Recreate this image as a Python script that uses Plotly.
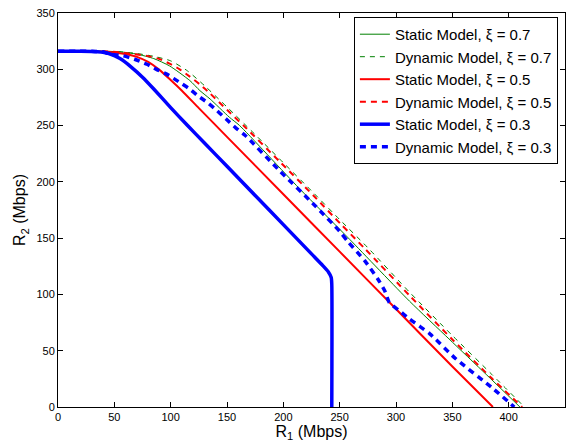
import plotly.graph_objects as go

# Static Model, xi = 0.7
s07_r1 = [0, 40, 55, 70, 85, 99, 117, 126, 135, 152, 161, 214, 259, 312, 347, 380, 410]
s07_r2 = [316, 316, 315.5, 313.5, 309.5, 303, 290, 281, 273.6, 257.5, 250.2, 194.3, 148.8, 94, 60.5, 29, 0]

# Dynamic Model, xi = 0.7
d07_r1 = [0, 40, 55, 70, 85, 100, 115, 130, 150, 175, 200, 225, 250, 275, 312, 350, 385, 414]
d07_r2 = [316, 316, 315.5, 314, 311.5, 307.5, 298.5, 285.5, 266.5, 242, 217, 192, 166.5, 141.5, 102, 63.5, 29, 0]

# Static Model, xi = 0.5
s05_r1 = [0, 30, 50, 60, 70, 80, 90, 100, 110, 125, 150, 200, 250, 300, 350, 386]
s05_r2 = [316, 316, 315, 313.5, 311, 306.5, 299.5, 290.5, 281, 265.5, 240, 189, 138, 87, 36, 0]

# Dynamic Model, xi = 0.5
d05_r1 = [0, 40, 55, 68, 79, 89, 99, 108, 117, 126, 135, 150, 166, 197, 228, 251, 273, 312, 350, 385, 412]
d05_r2 = [316, 316, 315, 313.3, 311.9, 309.5, 305, 300, 293.5, 286.5, 278.5, 264, 248.7, 217.8, 186.5, 162.5, 140, 99, 60, 25.5, 0]

# Static Model, xi = 0.3
s03_r1 = [0, 20, 35, 45, 55, 65, 75, 85, 100, 115, 130, 150, 175, 200, 225, 235, 240, 242.5, 243, 243]
s03_r2 = [316, 316, 315.5, 314, 309.5, 302, 293, 282.5, 266, 250, 234.5, 213.8, 187.9, 162, 136, 125.6, 120, 115, 109, 0]

# Dynamic Model, xi = 0.3
d03_r1 = [0, 30, 40, 46, 58, 68, 79, 87, 98, 107, 116, 124, 133, 141, 149, 158, 166, 197, 228, 250,
          257, 272, 284, 290, 294, 303, 312, 330, 353, 386, 405]
d03_r2 = [316, 316, 315.5, 313.5, 311.9, 308.9, 304.5, 300.1, 294.8, 289, 283.1, 276.6, 270.1, 263.4, 256,
          247.8, 241.4, 209.6, 179, 156.1, 147.3, 130.2, 113.5, 103.2, 92.9, 85.5, 78.2, 65, 42.9, 16.5, 0]

x_ticks = [0, 50, 100, 150, 200, 250, 300, 350, 400, 450]
y_ticks = [0, 50, 100, 150, 200, 250, 300, 350]

GREEN = "#008000"
RED = "#ff0000"
BLUE = "#0000ff"

series = [
    ("Static Model, \u03be = 0.7", s07_r1, s07_r2, GREEN, 1, "solid"),
    ("Dynamic Model, \u03be = 0.7", d07_r1, d07_r2, GREEN, 1, "5px,5px"),
    ("Static Model, \u03be = 0.5", s05_r1, s05_r2, RED, 2, "solid"),
    ("Dynamic Model, \u03be = 0.5", d05_r1, d05_r2, RED, 2, "6px,5px"),
    ("Static Model, \u03be = 0.3", s03_r1, s03_r2, BLUE, 3.5, "solid"),
    ("Dynamic Model, \u03be = 0.3", d03_r1, d03_r2, BLUE, 3.5, "6px,5px"),
]

fig = go.Figure()
for i, (name, xs, ys, col, w, dash) in enumerate(series):
    fig.add_trace(go.Scatter(x=xs, y=ys, mode="lines", name=name, legendgroup=str(i),
                             line=dict(color=col, width=w, dash=dash, shape="spline", smoothing=0.6)))

FONT = "Liberation Sans, Arial, Helvetica, sans-serif"
axis_common = dict(showline=True, linecolor="black", linewidth=1, mirror="ticks",
                   ticks="inside", ticklen=5, tickcolor="black", showgrid=False, zeroline=False,
                   tickfont=dict(family=FONT, size=11, color="black"))

fig.update_layout(
    width=573, height=442,
    margin=dict(l=58, r=7, t=10, b=35),
    plot_bgcolor="white", paper_bgcolor="white",
    font=dict(family=FONT, color="black"),
    xaxis=dict(range=[0, 450], tickvals=x_ticks, ticktext=[str(v) for v in x_ticks],
               title=dict(text="R<sub>1</sub> (Mbps)", font=dict(size=16), standoff=0), **axis_common),
    yaxis=dict(range=[0, 350], tickvals=y_ticks, ticktext=[str(v) for v in y_ticks],
               title=dict(text="R<sub>2</sub> (Mbps)", font=dict(size=16), standoff=6), **axis_common),
    legend=dict(x=0.986, y=0.99, xanchor="right", yanchor="top", bgcolor="white",
                bordercolor="black", borderwidth=1, font=dict(family=FONT, size=15, color="black"),
                tracegroupgap=0, itemwidth=30),
    showlegend=True,
)

fig.write_html("out.html")
